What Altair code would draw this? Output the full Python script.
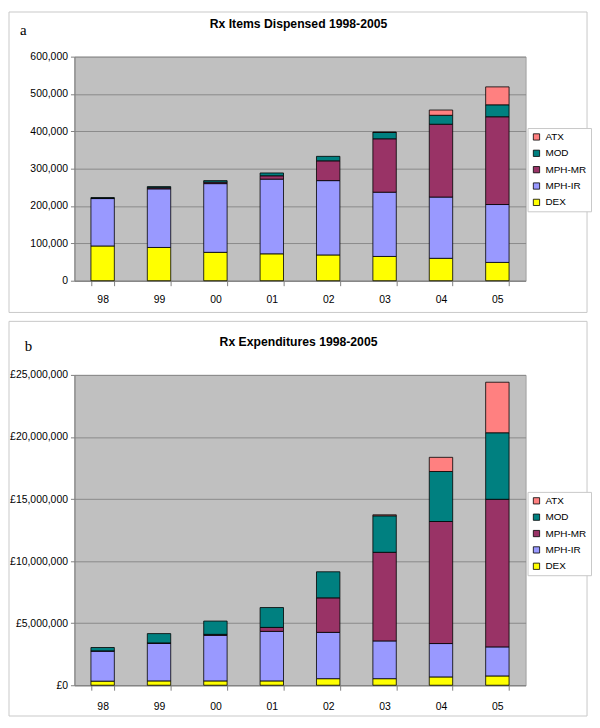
import altair as alt
import pandas as pd

years = ["98", "99", "00", "01", "02", "03", "04", "05"]
drugs = ["DEX", "MPH-IR", "MPH-MR", "MOD", "ATX"]          # stacking order, bottom first
legend_order = ["ATX", "MOD", "MPH-MR", "MPH-IR", "DEX"]
colors = ["#FF8080", "#008080", "#993366", "#9999FF", "#FFFF00"]

# Panel a: items dispensed
items_dex = [93000, 89000, 76000, 72000, 69000, 65000, 60000, 49000]
items_ir = [127000, 157000, 184000, 200000, 199000, 172000, 164000, 155000]
items_mr = [1000, 3000, 4000, 9000, 53000, 143000, 195000, 235000]
items_mod = [1500, 3000, 4000, 7500, 12000, 17000, 24000, 32000]
items_atx = [0, 0, 0, 0, 0, 1000, 14000, 48000]
items_ticks = [0, 100000, 200000, 300000, 400000, 500000, 600000]

# Panel b: expenditures (GBP)
exp_dex = [330000, 350000, 350000, 350000, 530000, 530000, 670000, 750000]
exp_ir = [2420000, 3030000, 3670000, 3990000, 3730000, 3040000, 2690000, 2340000]
exp_mr = [20000, 30000, 80000, 320000, 2780000, 7140000, 9830000, 11890000]
exp_mod = [270000, 750000, 1070000, 1600000, 2100000, 2940000, 4030000, 5360000]
exp_atx = [0, 0, 0, 0, 0, 80000, 1140000, 4070000]
exp_ticks = [0, 5000000, 10000000, 15000000, 20000000, 25000000]

title_a = "Rx Items Dispensed 1998-2005"
title_b = "Rx Expenditures 1998-2005"
label_a = "a"
label_b = "b"

FONT = "Liberation Sans"
W = 455


def table(series):
    rows = []
    for k, (d, vals) in enumerate(zip(drugs, series)):
        for y, v in zip(years, vals):
            if v > 0:
                rows.append({"year": y, "drug": d, "value": v, "ord": k})
    return pd.DataFrame(rows)


def panel(df, ticks, ymax, height, fmt_expr, legend_y, frame_top, frame_bottom,
          title, title_y, label, label_x, label_y, label_pad):
    bars = alt.Chart(df).mark_bar(stroke="black", strokeWidth=0.8).encode(
        x=alt.X("year:N", sort=years,
                scale=alt.Scale(paddingInner=0.585, paddingOuter=0.2925),
                axis=alt.Axis(title=None, labelAngle=0, tickBand="extent",
                              tickSize=5, tickColor="#808080",
                              domainColor="#808080", labelFont=FONT,
                              labelFontSize=10.5, labelColor="black",
                              labelPadding=label_pad, grid=False)),
        y=alt.Y("value:Q", stack="zero",
                scale=alt.Scale(domain=[0, ymax], nice=False),
                axis=alt.Axis(title=None, values=ticks, labelExpr=fmt_expr,
                              tickSize=4, tickColor="#808080",
                              domainColor="#808080", gridColor="#8a8a8a",
                              labelFont=FONT, labelFontSize=10.5,
                              labelColor="black", labelPadding=3)),
        color=alt.Color("drug:N", title=None,
                        scale=alt.Scale(domain=legend_order, range=colors),
                        legend=alt.Legend(orient="none", legendX=W + 2,
                                          legendY=legend_y,
                                          symbolType="square", symbolSize=40,
                                          symbolStrokeColor="black",
                                          symbolStrokeWidth=0.8,
                                          labelFont=FONT, labelFontSize=10,
                                          labelColor="black", rowPadding=6.5,
                                          padding=4, strokeColor="#c8c8c8",
                                          fillColor="white", labelLimit=200)),
        order=alt.Order("ord:Q", sort="ascending"),
    )
    one = pd.DataFrame({"t": [title]})
    frame = alt.Chart(one).mark_rect(fillOpacity=0, stroke="#c8c8c8",
                                     strokeWidth=1).encode(
        x=alt.value(-66), x2=alt.value(W + 62),
        y=alt.value(frame_top), y2=alt.value(frame_bottom))
    ttl = alt.Chart(one).mark_text(font=FONT, fontSize=12.3, fontWeight="bold",
                                   align="center", baseline="middle",
                                   color="black").encode(
        text="t:N", x=alt.value(226), y=alt.value(title_y))
    lab = alt.Chart(pd.DataFrame({"t": [label]})).mark_text(
        font="Liberation Serif", fontSize=15, align="left",
        baseline="middle", color="black").encode(
        text="t:N", x=alt.value(label_x), y=alt.value(label_y))
    return alt.layer(frame, bars, ttl, lab).properties(width=W, height=height)


fmt_a = "format(datum.value, ',')"
fmt_b = "'£' + format(datum.value, ',')"

chart_a = panel(table([items_dex, items_ir, items_mr, items_mod, items_atx]),
                items_ticks, 600000, 226, fmt_a, 72, -45, 258,
                title_a, -33, label_a, -55, -27, 9)
chart_b = panel(table([exp_dex, exp_ir, exp_mr, exp_mod, exp_atx]),
                exp_ticks, 25000000, 313, fmt_b, 118, -54, 344,
                title_b, -33, label_b, -50, -29, 11)

chart = alt.vconcat(chart_a, chart_b, spacing=95, bounds="flush",
                    padding=0, background="white").resolve_scale(
    color="independent", x="independent", y="independent"
).resolve_legend(color="independent").configure_view(
    fill="#C0C0C0", stroke="#a0a0a0"
)

chart.save("out.html", embed_options={"renderer": "svg", "actions": False})
